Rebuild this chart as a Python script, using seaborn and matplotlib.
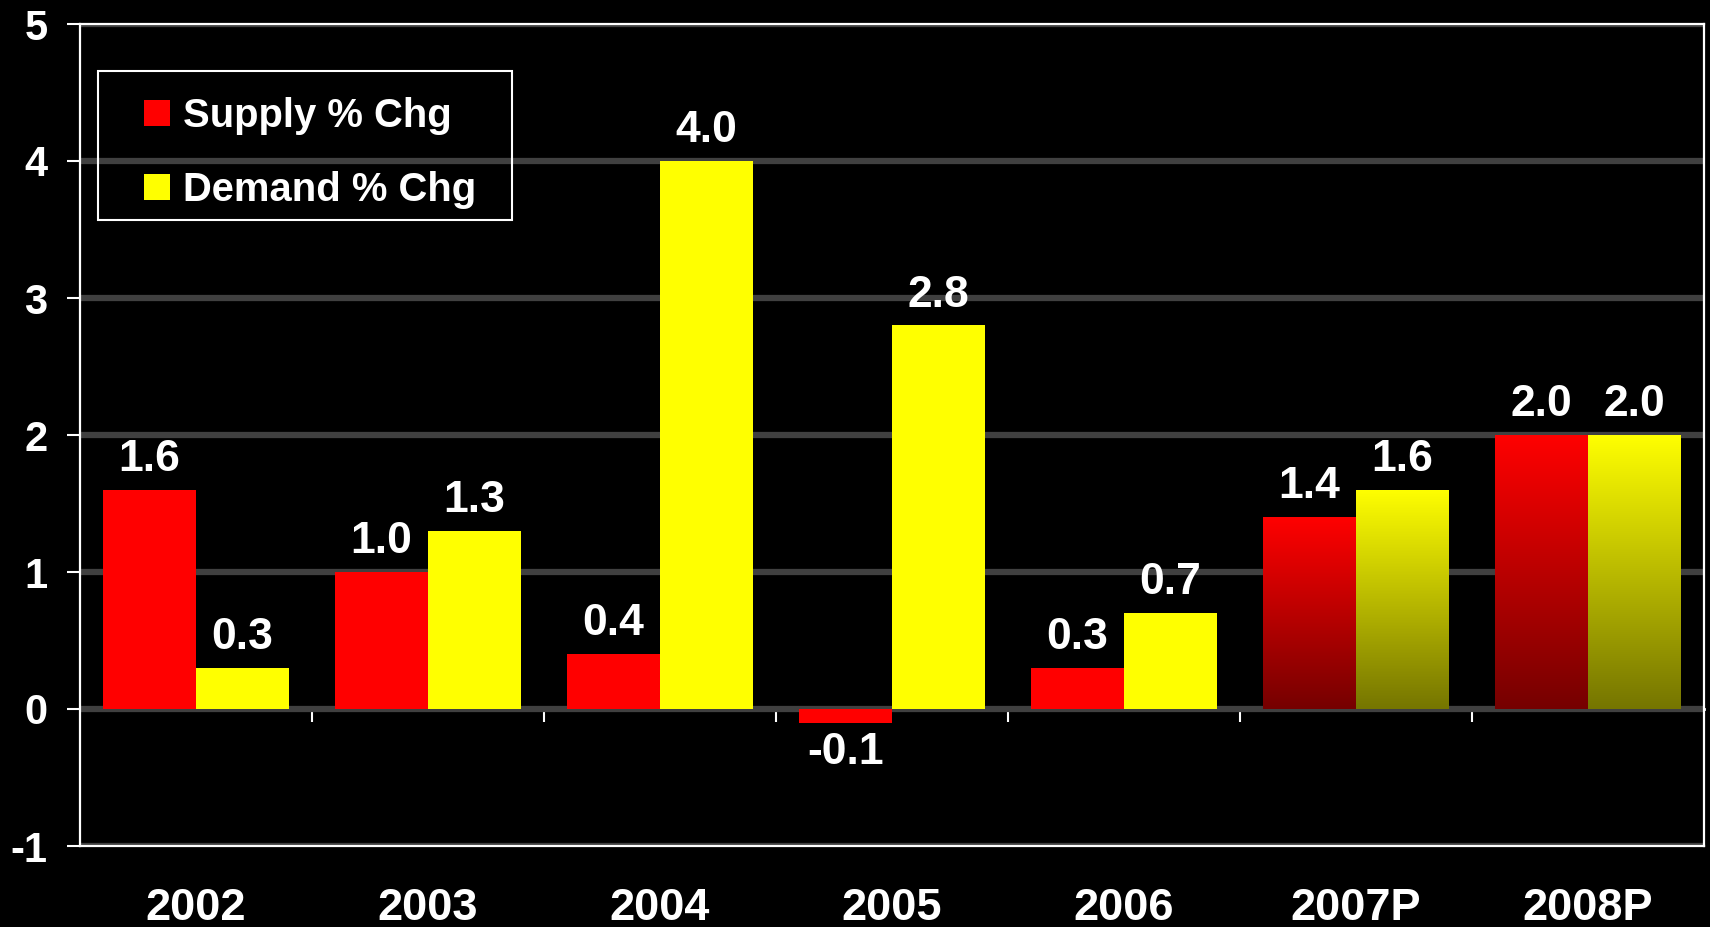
import numpy as np
import pandas as pd
import matplotlib
matplotlib.use("Agg")
import matplotlib.pyplot as plt
from matplotlib.patches import Rectangle, Patch
import seaborn as sns

# ---- data ----
categories = ["2002", "2003", "2004", "2005", "2006", "2007P", "2008P"]
supply_pct_chg = [1.6, 1.0, 0.4, -0.1, 0.3, 1.4, 2.0]
demand_pct_chg = [0.3, 1.3, 4.0, 2.8, 0.7, 1.6, 2.0]
series_names = ["Supply % Chg", "Demand % Chg"]
projected = ["2007P", "2008P"]
y_ticks = [-1, 0, 1, 2, 3, 4, 5]

df = pd.DataFrame({
    "year": categories * 2,
    "value": supply_pct_chg + demand_pct_chg,
    "series": [series_names[0]] * len(categories) + [series_names[1]] * len(categories),
})

sns.set_theme(style="dark")
plt.rcParams["font.family"] = ["Liberation Sans", "DejaVu Sans"]
plt.rcParams["font.weight"] = "bold"

colors = {series_names[0]: "#FF0000", series_names[1]: "#FFFF00"}

fig = plt.figure(figsize=(17.1, 9.27), dpi=100, facecolor="black")
ax = fig.add_axes([80 / 1710, 1 - 846 / 927, 1624 / 1710, 822 / 927])
ax.set_facecolor("black")

sns.barplot(data=df, x="year", y="value", hue="series", order=categories,
            hue_order=series_names, palette=colors, linewidth=0, saturation=1,
            legend=False, ax=ax)

ax.set_ylim(y_ticks[0], y_ticks[-1])
ax.set_xlim(-0.5, len(categories) - 0.5)
xlim, ylim = ax.get_xlim(), ax.get_ylim()

# gradient for projected years
for cont, name in zip(ax.containers, series_names):
    base = np.array(matplotlib.colors.to_rgb(colors[name]))
    for bar, cat in zip(cont, categories):
        if cat in projected:
            x0, w = bar.get_x(), bar.get_width()
            y0, h = bar.get_y(), bar.get_height()
            f = np.linspace(0.46, 1.0, 256)[:, None]
            img = (f[:, :, None] * base[None, None, :]) * np.ones((1, 2, 1))
            im = ax.imshow(img, extent=[x0, x0 + w, y0, y0 + h], origin="lower",
                           aspect="auto", interpolation="bilinear",
                           zorder=bar.get_zorder() + 0.1)
            im.set_clip_path(bar)
    labels = [f"{v:.1f}" for v in cont.datavalues]
    ax.bar_label(cont, labels=labels, padding=7, fontsize=32, fontweight="bold",
                 color="white", zorder=5)

ax.set_xlim(xlim)
ax.set_ylim(ylim)

# axes styling
ax.set_xlabel("")
ax.set_ylabel("")
ax.set_yticks(y_ticks)
ax.set_yticklabels([str(t) for t in y_ticks])
ax.tick_params(axis="y", colors="white", labelcolor="white", direction="out",
               length=9.5, width=1.5, pad=14, labelsize=30, left=True)
ax.tick_params(axis="x", length=0, pad=30, labelsize=32.5, labelcolor="white")
for lab in ax.get_xticklabels() + ax.get_yticklabels():
    lab.set_fontweight("bold")
for s in ax.spines.values():
    s.set_visible(True)
    s.set_color("white")
    s.set_linewidth(1.6)

ax.grid(False)
ax.yaxis.grid(True, color="#404040", linewidth=4.5)
ax.set_axisbelow(True)

# zero-line category axis with ticks between groups
sec = ax.secondary_xaxis(1 / 6)
sec.set_xticks(np.arange(0.5, len(categories) - 1, 1.0))
sec.xaxis.set_ticks_position("bottom")
sec.tick_params(axis="x", direction="out", length=9.5, width=1.5, color="white",
                labelbottom=False, labeltop=False)
for s in sec.spines.values():
    s.set_color("white")
    s.set_linewidth(2)

# legend
handles = [Patch(facecolor=colors[n], edgecolor="none") for n in series_names]
leg = ax.legend(handles, series_names, loc="upper left",
                bbox_to_anchor=((144 - 80) / 1624, (846 - 97) / 822),
                borderaxespad=0, borderpad=0, frameon=False,
                prop={"size": 28.8, "weight": "bold"}, labelcolor="white",
                handlelength=0.64, handleheight=0.64, handletextpad=0.33,
                labelspacing=0.9)
ax.add_patch(Rectangle(((98 - 80) / 1624, (846 - 220) / 822),
                       (512 - 98) / 1624, (220 - 71) / 822,
                       transform=ax.transAxes, facecolor="none",
                       edgecolor="white", linewidth=1.5, zorder=6))

fig.savefig("out.png", dpi=100, facecolor="black")
